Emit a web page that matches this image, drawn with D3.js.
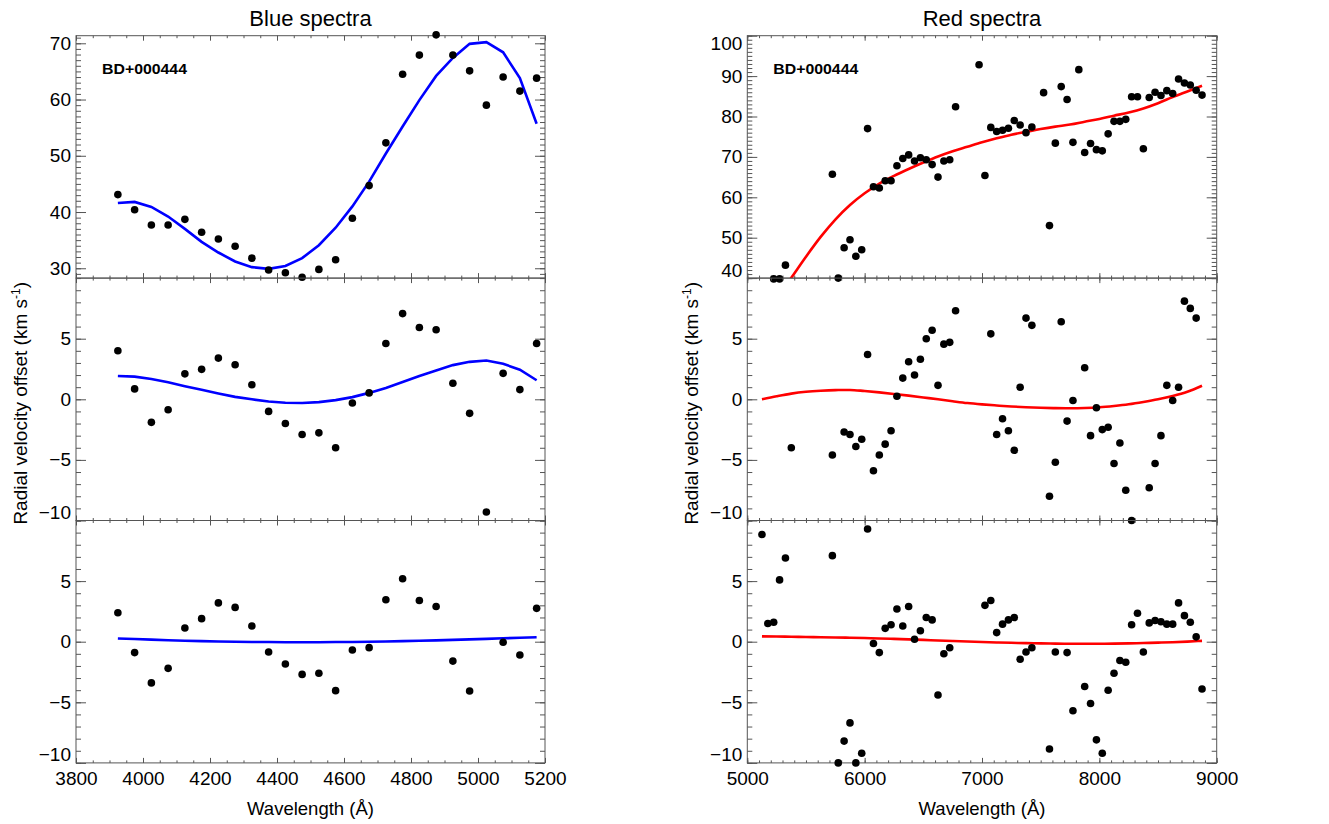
<!DOCTYPE html>
<html>
<head>
<meta charset="utf-8">
<script src="https://cdn.jsdelivr.net/npm/d3@7"></script>
<style>
    body { margin: 0; background: #fff; }
    text { font-family: "Liberation Sans", Arial, sans-serif; fill: #000; }
</style>
</head>
<body>
<svg id="chart" width="1329" height="824"></svg>
<script>
// ---- blue arm: one wavelength grid for dots and fit
const blueWave = [3925, 3975, 4025, 4075, 4125, 4175, 4225, 4275, 4325, 4375, 4425, 4475, 4525,
    4575, 4625, 4675, 4725, 4775, 4825, 4875, 4925, 4975, 5025, 5075, 5125, 5175];
const blueRv = [43.1, 40.4, 37.7, 37.7, 38.7, 36.4, 35.2, 33.9, 31.8, 29.7, 29.2, 28.4, 29.8,
    31.5, 38.9, 44.7, 52.3, 64.5, 67.9, 71.5, 67.9, 65.1, 59.0, 64.0, 61.5, 63.8];
const blueRvFit = [41.6, 41.8, 40.9, 39.2, 37.0, 34.7, 32.8, 31.2, 30.2, 29.9, 30.4, 31.8, 34.1,
    37.2, 41.0, 45.4, 50.4, 55.2, 59.9, 64.2, 67.4, 69.9, 70.2, 68.4, 63.8, 55.7];
const blueRes1 = [4.0, 0.86, -1.9, -0.86, 2.1, 2.47, 3.4, 2.85, 1.2, -1.0, -2.0, -2.9, -2.77,
    -4.0, -0.3, 0.53, 4.6, 7.07, 5.93, 5.74, 1.32, -1.16, -9.3, 2.14, 0.8, 4.6];
const blueRes1Fit = [1.92, 1.87, 1.68, 1.4, 1.08, 0.78, 0.48, 0.2, 0.0, -0.18, -0.29, -0.31, -0.23,
    -0.07, 0.18, 0.53, 0.94, 1.43, 1.92, 2.38, 2.82, 3.09, 3.2, 2.93, 2.44, 1.57];
const blueRes2 = [2.39, -0.9, -3.4, -2.2, 1.13, 1.9, 3.2, 2.83, 1.29, -0.85, -1.84, -2.7, -2.6,
    -4.04, -0.69, -0.49, 3.46, 5.2, 3.4, 2.9, -1.6, -4.07, null, -0.05, -1.1, 2.75];
const blueRes2Fit = [0.27, 0.22, 0.17, 0.12, 0.08, 0.05, 0.02, 0.0, -0.02, -0.03, -0.04, -0.04, -0.04,
    -0.03, -0.02, 0.0, 0.02, 0.05, 0.08, 0.11, 0.15, 0.19, 0.23, 0.28, 0.32, 0.37];

// ---- red arm: dot grid (null = off the panel)
const redWave = [5125, 5175, 5225, 5275, 5325, 5375, 5425, 5475, 5525, 5575, 5625, 5675, 5725,
    5775, 5825, 5875, 5925, 5975, 6025, 6075, 6125, 6175, 6225, 6275, 6325, 6375, 6425, 6475,
    6525, 6575, 6625, 6675, 6725, 6775, 6825, 6875, 6925, 6975, 7025, 7075, 7125, 7175, 7225,
    7275, 7325, 7375, 7425, 7475, 7525, 7575, 7625, 7675, 7725, 7775, 7825, 7875, 7925, 7975,
    8025, 8075, 8125, 8175, 8225, 8275, 8325, 8375, 8425, 8475, 8525, 8575, 8625, 8675, 8725,
    8775, 8825, 8875];
const redRv = [null, null, 39.8, 39.8, 43.2, null, null, null, null, null, null, null, 65.7,
    40.0, 47.5, 49.5, 45.4, 47.0, 77.0, 62.6, 62.3, 64.1, 64.1, 67.8, 69.6, 70.5, 69.0, 69.8,
    69.3, 68.1, 65.0, 69.0, 69.3, 82.4, null, null, null, 92.8, 65.4, 77.3, 76.3, 76.6, 77.1,
    79.0, 77.9, 76.0, 77.4, null, 85.9, 53.0, 73.4, 87.4, 84.2, 73.6, 91.6, 71.1, 73.3, 71.8,
    71.5, 75.7, 78.8, 78.8, 79.3, 84.9, 84.9, 72.0, 84.7, 86.0, 85.2, 86.4, 85.7, 89.3, 88.3,
    87.8, 86.5, 85.3];
const redRes1 = [null, null, null, null, null, -4.0, null, null, null, null, null, null, -4.6,
    null, -2.7, -2.9, -3.9, -3.3, 3.7, -5.9, -4.6, -3.7, -2.6, 0.25, 1.75, 3.1, 2.0, 3.3,
    5.0, 5.7, 1.15, 4.55, 4.7, 7.3, null, null, null, null, null, 5.4, -2.9, -1.6, -2.6,
    -4.2, 1.0, 6.7, 6.1, null, null, -8.0, -5.2, 6.4, -1.8, -0.1, null, 2.6, -3.0, -0.7,
    -2.5, -2.3, -5.3, -3.6, -7.5, -10.0, null, null, -7.3, -5.3, -3.0, 1.15, -0.1, 1.0, 8.1,
    7.5, 6.7, null];
const redRes2 = [8.85, 1.5, 1.6, 5.1, 6.9, null, null, null, null, null, null, null, 7.1,
    -10.0, -8.2, -6.7, -10.0, -9.2, 9.3, -0.15, -0.9, 1.1, 1.4, 2.7, 1.3, 2.9, 0.2, 0.9,
    2.0, 1.8, -4.4, -1.0, -0.5, null, null, null, null, null, 3.0, 3.4, 0.75, 1.45, 1.8,
    2.0, -1.45, -0.85, -0.5, null, null, -8.85, -0.85, null, -0.9, -5.7, null, -3.7, -5.1, -8.1,
    -9.2, -4.0, -2.6, -1.55, -1.7, 1.4, 2.35, -0.85, 1.55, 1.75, 1.65, 1.45, 1.45, 3.2, 2.15,
    1.6, 0.4, -3.9];

const redFitWave = [5125, 5250, 5375, 5500, 5625, 5750, 5875, 6000, 6125, 6250, 6375, 6500,
    6625, 6750, 6875, 7000, 7125, 7250, 7375, 7500, 7625, 7750, 7875, 8000, 8125, 8250, 8375,
    8500, 8625, 8750, 8875];
const redRvFit = [29.5, 35.0, 40.1, 45.3, 50.2, 54.5, 58.1, 61.0, 63.4, 65.3, 67.0, 68.6,
    70.1, 71.4, 72.5, 73.6, 74.6, 75.5, 76.2, 76.9, 77.5, 78.0, 78.7, 79.4, 80.2, 81.0, 82.0,
    83.3, 84.8, 86.2, 87.6];
const redRes1Fit = [0.0, 0.25, 0.47, 0.62, 0.71, 0.76, 0.77, 0.68, 0.57, 0.44, 0.3, 0.15,
    0.0, -0.16, -0.31, -0.42, -0.51, -0.59, -0.65, -0.7, -0.73, -0.74, -0.72, -0.66, -0.55,
    -0.41, -0.22, 0.0, 0.27, 0.62, 1.12];
const redRes2Fit = [0.44, 0.43, 0.41, 0.39, 0.37, 0.35, 0.33, 0.30, 0.27, 0.23, 0.19, 0.15,
    0.10, 0.06, 0.02, -0.02, -0.06, -0.09, -0.12, -0.14, -0.16, -0.17, -0.17, -0.17, -0.16,
    -0.14, -0.11, -0.08, -0.04, 0.01, 0.07];

// ---- tick labels
const blueWaveTicks = [3800, 4000, 4200, 4400, 4600, 4800, 5000, 5200];
const redWaveTicks = [5000, 6000, 7000, 8000, 9000];
const blueRvTicks = [30, 40, 50, 60, 70];
const redRvTicks = [40, 50, 60, 70, 80, 90, 100];
const residualTicks = [-10, -5, 0, 5];

const starName = "BD+000444";

const svg = d3.select("#chart");
const plotTop = 35.7;
const panelHeight = 242.4;
const axisColor = "#555";

const columns = [
    {
        x0: 76, x1: 545, domain: [3800, 5200], ticks: blueWaveTicks, minorStep: 50,
        color: "#0000ff", title: "Blue spectra", curve: d3.curveLinear,
        panels: [
            {domain: [28.25, 71.35], ticks: blueRvTicks, minorStep: 1, wave: blueWave, dots: blueRv, fitWave: blueWave, fit: blueRvFit},
            {domain: [-10, 10], ticks: residualTicks, minorStep: 1, wave: blueWave, dots: blueRes1, fitWave: blueWave, fit: blueRes1Fit},
            {domain: [-10, 10], ticks: residualTicks, minorStep: 1, wave: blueWave, dots: blueRes2, fitWave: blueWave, fit: blueRes2Fit}
        ]
    },
    {
        x0: 747.3, x1: 1216.7, domain: [5000, 9000], ticks: redWaveTicks, minorStep: 100,
        color: "#ff0000", title: "Red spectra", curve: d3.curveMonotoneX,
        panels: [
            {domain: [40, 100], ticks: redRvTicks, minorStep: 1, wave: redWave, dots: redRv, fitWave: redFitWave, fit: redRvFit},
            {domain: [-10, 10], ticks: residualTicks, minorStep: 1, wave: redWave, dots: redRes1, fitWave: redFitWave, fit: redRes1Fit},
            {domain: [-10, 10], ticks: residualTicks, minorStep: 1, wave: redWave, dots: redRes2, fitWave: redFitWave, fit: redRes2Fit}
        ]
    }
];

function minorValues(domain, step) {
    const start = Math.ceil(domain[0] / step) * step;
    return d3.range(start, domain[1] + step / 2, step).filter(v => v <= domain[1]);
}

function styleAxis(g) {
    g.select(".domain").remove();
    g.selectAll("line").attr("stroke", axisColor).attr("stroke-width", 1);
    g.selectAll("text").style("font-size", "19px").attr("fill", "#000");
}

function fmt(v) {
    return v < 0 ? "\u2212" + Math.abs(v) : String(v);
}

columns.forEach((col, ci) => {
    const x = d3.scaleLinear().domain(col.domain).range([col.x0, col.x1]);
    const xMinor = minorValues(col.domain, col.minorStep);

    col.panels.forEach((panel, pi) => {
        const top = plotTop + pi * panelHeight;
        const bottom = top + panelHeight;
        const y = d3.scaleLinear().domain(panel.domain).range([bottom, top]);
        const g = svg.append("g");

        const clipId = `clip-${ci}-${pi}`;
        svg.append("clipPath").attr("id", clipId)
            .append("rect")
            .attr("x", col.x0).attr("y", top)
            .attr("width", col.x1 - col.x0).attr("height", panelHeight);

        // minor + major ticks on the left side
        g.append("g").attr("transform", `translate(${col.x0},0)`)
            .call(d3.axisLeft(y).tickValues(minorValues(panel.domain, panel.minorStep)).tickSize(-5).tickFormat(""))
            .call(styleAxis);
        g.append("g").attr("transform", `translate(${col.x0},0)`)
            .call(d3.axisLeft(y).tickValues(panel.ticks).tickSize(-10).tickPadding(5).tickFormat(fmt))
            .call(styleAxis)
            .selectAll(".tick text")
            .attr("y", d => {
                const py = y(d);
                return Math.max(top + 8 - py, 0) - Math.max(py - (bottom - 8), 0);
            });

        // mirrored ticks on the right side
        g.append("g").attr("transform", `translate(${col.x1},0)`)
            .call(d3.axisRight(y).tickValues(minorValues(panel.domain, panel.minorStep)).tickSize(-5).tickFormat(""))
            .call(styleAxis);
        g.append("g").attr("transform", `translate(${col.x1},0)`)
            .call(d3.axisRight(y).tickValues(panel.ticks).tickSize(-10).tickFormat(""))
            .call(styleAxis);

        // x ticks top and bottom of each panel
        g.append("g").attr("transform", `translate(0,${top})`)
            .call(d3.axisTop(x).tickValues(xMinor).tickSize(-2.5).tickFormat(""))
            .call(styleAxis);
        g.append("g").attr("transform", `translate(0,${top})`)
            .call(d3.axisTop(x).tickValues(col.ticks).tickSize(-5).tickFormat(""))
            .call(styleAxis);
        g.append("g").attr("transform", `translate(0,${bottom})`)
            .call(d3.axisBottom(x).tickValues(xMinor).tickSize(-2.5).tickFormat(""))
            .call(styleAxis);
        g.append("g").attr("transform", `translate(0,${bottom})`)
            .call(d3.axisBottom(x).tickValues(col.ticks).tickSize(-5).tickPadding(9)
                .tickFormat(pi === 2 ? d3.format("d") : ""))
            .call(styleAxis);

        // frame
        g.append("rect")
            .attr("x", col.x0).attr("y", top)
            .attr("width", col.x1 - col.x0).attr("height", panelHeight)
            .attr("fill", "none").attr("stroke", axisColor).attr("stroke-width", 1);

        // fit
        const fitRows = panel.fitWave.map((w, i) => ({w: w, v: panel.fit[i]}));
        g.append("path")
            .datum(fitRows)
            .attr("clip-path", `url(#${clipId})`)
            .attr("fill", "none")
            .attr("stroke", col.color)
            .attr("stroke-width", 2.6)
            .attr("d", d3.line().x(d => x(d.w)).y(d => y(d.v)).curve(col.curve));

        // measurements
        const dotRows = panel.wave.map((w, i) => ({w: w, v: panel.dots[i]})).filter(d => d.v !== null);
        g.selectAll("circle")
            .data(dotRows)
            .enter()
            .append("circle")
            .attr("cx", d => x(d.w))
            .attr("cy", d => y(d.v))
            .attr("r", 3.8)
            .attr("fill", "#000");

        if (pi === 0) {
            g.append("text")
                .attr("x", col.x0 + 26).attr("y", 74)
                .attr("textLength", 85)
                .attr("lengthAdjust", "spacingAndGlyphs")
                .style("font-size", "15px")
                .style("font-weight", "bold")
                .text(starName);
        }
    });

    const cx = (col.x0 + col.x1) / 2;
    svg.append("text")
        .attr("x", cx).attr("y", 26)
        .attr("text-anchor", "middle")
        .style("font-size", "22px")
        .text(col.title);

    svg.append("text")
        .attr("x", cx).attr("y", 815)
        .attr("text-anchor", "middle")
        .style("font-size", "18.5px")
        .text("Wavelength (\u00c5)");

    const yLabel = svg.append("text")
        .attr("transform", `translate(${col.x0 - 49},${plotTop + panelHeight * 1.5 + 4}) rotate(-90)`)
        .attr("text-anchor", "middle")
        .style("font-size", "19px");
    yLabel.append("tspan").text("Radial velocity offset (km s");
    yLabel.append("tspan").attr("dy", -7).style("font-size", "12px").text("-1");
    yLabel.append("tspan").attr("dy", 7).text(")");
});
</script>
</body>
</html>
